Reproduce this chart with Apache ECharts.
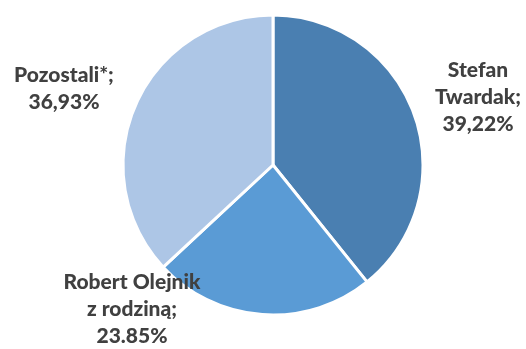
<!DOCTYPE html>
<html><head><meta charset="utf-8">
<script src="https://cdn.jsdelivr.net/npm/echarts@6/dist/echarts.min.js"></script>
<style>html,body{margin:0;padding:0;background:#fff}#c{width:526px;height:349px}</style>
</head><body><div id="c"></div>
<script>
const names = ['Stefan\nTwardak', 'Robert Olejnik\nz rodziną', 'Pozostali*'];
const values = [39.22, 23.85, 36.93];
const valueLabels = ['39,22%', '23.85%', '36,93%'];
const colors = ['#4a7fb1', '#5a9bd5', '#adc6e6'];
const labelPos = [[478, 97], [132, 309], [64, 89]];

const chart = echarts.init(document.getElementById('c'));
chart.setOption({
  animation: false,
  series: [{
    type: 'pie',
    center: [273, 165],
    radius: 150,
    startAngle: 90,
    clockwise: true,
    data: names.map((n, i) => ({ name: n, value: values[i], itemStyle: { color: colors[i] } })),
    itemStyle: { borderColor: '#fff', borderWidth: 3 },
    label: {
      show: true,
      formatter: p => p.name + ';\n' + valueLabels[p.dataIndex],
      fontFamily: 'Lato',
      fontWeight: 900,
      fontSize: 21,
      lineHeight: 27,
      color: '#404040',
      align: 'center',
      overflow: 'none',
      width: 300
    },
    labelLine: { show: false },
    labelLayout: p => ({ x: labelPos[p.dataIndex][0], y: labelPos[p.dataIndex][1], align: 'center', verticalAlign: 'middle', width: 300 }),
    emphasis: { disabled: true }
  }]
});
</script></body></html>
